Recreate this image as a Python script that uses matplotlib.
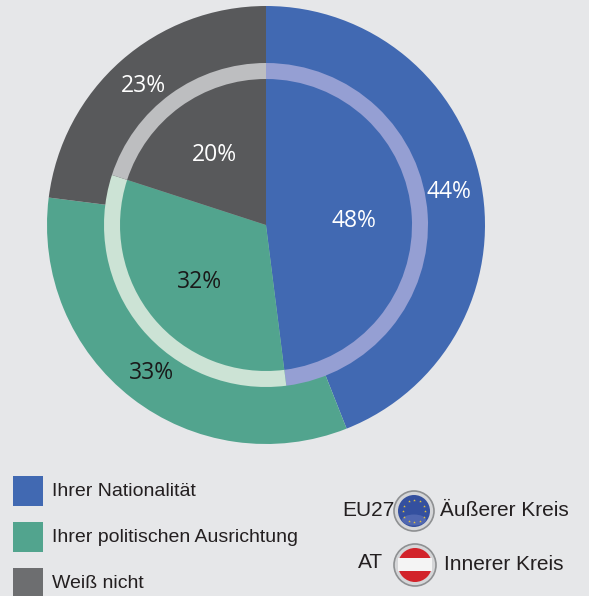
import numpy as np
import matplotlib
matplotlib.use("Agg")
import matplotlib.pyplot as plt
from matplotlib.patches import Circle, Rectangle, Ellipse

# werte
kategorien = ["Ihrer Nationalität", "Ihrer politischen Ausrichtung", "Weiß nicht"]
eu27 = [44, 33, 23]
at = [48, 32, 20]

farben = ["#4169B2", "#52A48E", "#58595B"]
farben_ring = ["#959FD3", "#CCE3D5", "#BDBEC0"]
farben_legende = ["#4169B2", "#52A48E", "#6D6E70"]
hintergrund = "#E6E7E9"

B, H = 589, 596
fig = plt.figure(figsize=(B / 100, H / 100), dpi=100, facecolor=hintergrund)
ax = fig.add_axes([0, 0, 1, 1])
ax.set_xlim(0, B)
ax.set_ylim(0, H)
ax.axis("off")

mitte = (266, H - 225)

# aussen, ring, innen
ax.pie(eu27, colors=farben, radius=219, center=mitte, startangle=90, counterclock=False, frame=True)
ax.pie(at, colors=farben_ring, radius=162, center=mitte, startangle=90, counterclock=False, frame=True)
ax.pie(at, colors=farben, radius=146, center=mitte, startangle=90, counterclock=False, frame=True)
ax.set_xlim(0, B)
ax.set_ylim(0, H)
ax.set_aspect("equal")
ax.axis("off")

schrift_pie = "Open Sans"
ax.text(449, H - 192, f"{eu27[0]}%", color="white", fontsize=16.5, family=schrift_pie, ha="center", va="center")
ax.text(152, H - 373, f"{eu27[1]}%", color="#1A1A1A", fontsize=16.5, family=schrift_pie, ha="center", va="center")
ax.text(143, H - 86, f"{eu27[2]}%", color="white", fontsize=16.5, family=schrift_pie, ha="center", va="center")
ax.text(354, H - 221, f"{at[0]}%", color="white", fontsize=16.5, family=schrift_pie, ha="center", va="center")
ax.text(199, H - 282, f"{at[1]}%", color="#1A1A1A", fontsize=16.5, family=schrift_pie, ha="center", va="center")
ax.text(214, H - 155, f"{at[2]}%", color="white", fontsize=16.5, family=schrift_pie, ha="center", va="center")

# legende
schrift = "Liberation Sans"
legende_y = [491, 537, 583]
for name, farbe, y in zip(kategorien, farben_legende, legende_y):
    ax.add_patch(Rectangle((13, H - y - 15), 30, 30, facecolor=farbe, edgecolor="none"))
    ax.text(52, H - y, name, fontsize=14, family=schrift, color="#231F20", va="center", ha="left")

# EU-flagge
ex, ey = 414, H - 511
ax.add_patch(Circle((ex, ey), 20, facecolor="#D5D6D8", edgecolor="#8E9092", linewidth=1.2))
ax.add_patch(Circle((ex, ey), 16, facecolor="#34509F", edgecolor="none"))
ax.add_patch(Ellipse((ex, ey - 9), 24, 11, facecolor="#5C72B8", edgecolor="none", alpha=0.7))
winkel = np.arange(12) * 30
ax.scatter(ex + 11 * np.cos(np.radians(winkel)), ey + 11 * np.sin(np.radians(winkel)), s=4, marker="*", color="#E5C53A", linewidths=0, zorder=5)

# AT-flagge
ox, oy = 415, H - 565
ax.add_patch(Circle((ox, oy), 21, facecolor="#D5D6D8", edgecolor="#8E9092", linewidth=1.2))
ax.add_patch(Circle((ox, oy), 17, facecolor="#D2232A", edgecolor="none"))
ax.add_patch(Rectangle((ox - 17, oy - 6), 34, 13, facecolor="#F4F4F4", edgecolor="none"))

ax.text(368, H - 511, "EU27", fontsize=15, family=schrift, color="#231F20", va="center", ha="center")
ax.text(371, H - 563, "AT", fontsize=15, family=schrift, color="#231F20", va="center", ha="center")
ax.text(440, H - 510, "Äußerer Kreis", fontsize=15, family=schrift, color="#231F20", va="center", ha="left")
ax.text(444, H - 565, "Innerer Kreis", fontsize=15, family=schrift, color="#231F20", va="center", ha="left")

fig.savefig("out.png", dpi=100, facecolor=hintergrund)
